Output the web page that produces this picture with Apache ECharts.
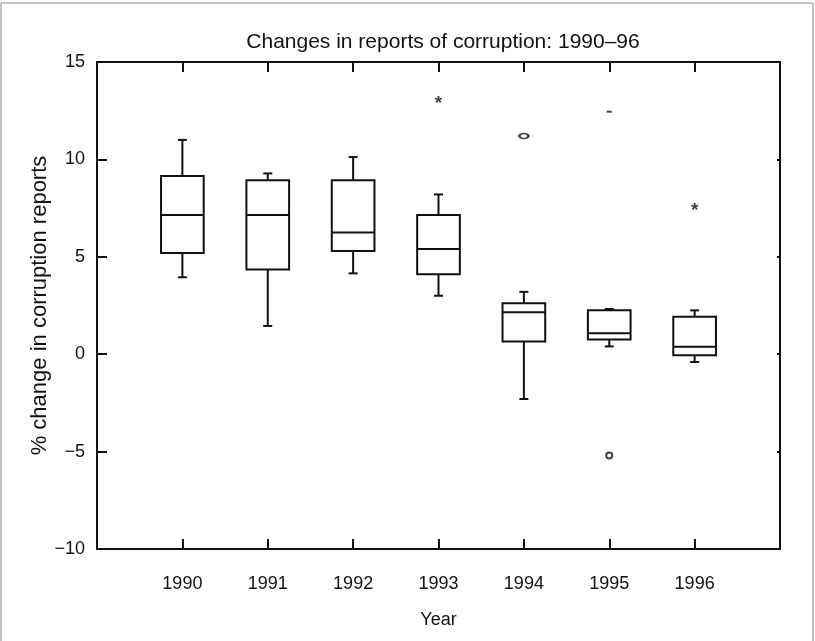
<!DOCTYPE html>
<html>
<head>
<meta charset="utf-8">
<script src="https://cdn.jsdelivr.net/npm/echarts@6/dist/echarts.min.js"></script>
<style>
html,body{margin:0;padding:0;background:#fff;}
#chart{width:815px;height:641px;}
</style>
</head>
<body>
<div id="chart"></div>
<script>
// Data
const years = ['1990', '1991', '1992', '1993', '1994', '1995', '1996'];
const whiskerLow  = [3.95, 1.45, 4.15, 3.0, -2.3, 0.4, -0.4];
const q1          = [5.2, 4.35, 5.3, 4.1, 0.65, 0.75, -0.05];
const median      = [7.15, 7.15, 6.25, 5.4, 2.15, 1.08, 0.38];
const q3          = [9.15, 8.93, 8.93, 7.15, 2.62, 2.25, 1.92];
const whiskerHigh = [11.0, 9.28, 10.12, 8.2, 3.2, 2.32, 2.25];

const outYear  = ['1993', '1994', '1995', '1995', '1996'];
const outValue = [13.05, 11.2, 12.45, -5.2, 7.55];
const outMark  = ['*', 'o', '-', 'c', '*'];

const yTicks = [-10, -5, 0, 5, 10, 15];

// axis categories with an empty slot on each side
const cats = [' '].concat(years).concat(['  ']);

const boxData = years.map((y, i) => [i + 1, whiskerLow[i], q1[i], median[i], q3[i], whiskerHigh[i]]);

const FONT = 'Liberation Sans, Arial, Helvetica, sans-serif';
const INK = '#111';

function markStyle(m) {
  if (m === 'o') return { symbol: 'emptyCircle', symbolSize: [9, 5], itemStyle: { color: INK, borderWidth: 2 } };
  if (m === 'c') return { symbol: 'emptyCircle', symbolSize: 6, itemStyle: { color: INK, borderWidth: 2 } };
  if (m === '-') return { symbol: 'rect', symbolSize: [5, 2], itemStyle: { color: INK } };
  return { symbol: 'circle', symbolSize: 1, itemStyle: { color: 'rgba(0,0,0,0)' },
    label: { show: true, position: 'inside', formatter: '*', fontSize: 19, fontWeight: 'bold', fontFamily: FONT, color: INK, offset: [0, 4] } };
}

const outData = outYear.map((y, i) => Object.assign({ value: [years.indexOf(y) + 1, outValue[i]] }, markStyle(outMark[i])));

const chart = echarts.init(document.getElementById('chart'), null, { renderer: 'canvas' });

const axisCommonX = {
  type: 'category',
  data: cats,
  boundaryGap: false,
  axisLine: { show: true, onZero: false, lineStyle: { color: INK, width: 2 } },
  axisTick: { show: true, inside: true, length: 10, lineStyle: { color: INK, width: 2 },
    interval: (idx) => idx > 0 && idx < cats.length - 1 },
  splitLine: { show: false }
};

chart.setOption({
  animation: false,
  backgroundColor: '#fff',
  title: {
    text: 'Changes in reports of corruption: 1990\u201396',
    left: 438, textAlign: 'center', top: 27,
    textStyle: { fontFamily: FONT, fontSize: 21, fontWeight: 'normal', color: INK }
  },
  grid: { left: 97, right: 35, top: 62, bottom: 92, containLabel: false },
  xAxis: [
    Object.assign({}, axisCommonX, {
      position: 'bottom',
      axisLabel: { show: true, fontFamily: FONT, fontSize: 18, color: INK, margin: 26,
        interval: (idx) => idx > 0 && idx < cats.length - 1 },
      name: 'Year', nameLocation: 'middle', nameGap: 62,
      nameTextStyle: { fontFamily: FONT, fontSize: 18, color: INK }
    }),
    Object.assign({}, axisCommonX, { position: 'top', axisLabel: { show: false } })
  ],
  yAxis: [
    {
      type: 'value', min: -10, max: 15, interval: 5, position: 'left',
      axisLine: { show: true, onZero: false, lineStyle: { color: INK, width: 2 } },
      axisTick: { show: true, inside: true, length: 10, lineStyle: { color: INK, width: 2 } },
      axisLabel: { fontFamily: FONT, fontSize: 18, color: INK, margin: 12,
        formatter: (v) => yTicks.indexOf(v) >= 0 ? (v < 0 ? '\u2212' + Math.abs(v) : String(v)) : '' },
      splitLine: { show: false },
      name: '% change in corruption reports', nameLocation: 'middle', nameGap: 46, nameRotate: 90,
      nameMoveOverlap: false,
      nameTextStyle: { fontFamily: FONT, fontSize: 22, color: INK }
    },
    {
      type: 'value', min: -10, max: 15, interval: 5, position: 'right',
      axisLine: { show: true, onZero: false, lineStyle: { color: INK, width: 2 } },
      axisTick: { show: true, inside: true, length: 3, lineStyle: { color: INK, width: 2 } },
      axisLabel: { show: false },
      splitLine: { show: false }
    }
  ],
  series: [
    {
      type: 'custom',
      xAxisIndex: 0, yAxisIndex: 0,
      data: boxData,
      renderItem: function (params, api) {
        const x = api.value(0);
        const band = api.size([1, 0])[0];
        const w = band * 0.5;
        const cap = 9;
        const pLow = api.coord([x, api.value(1)]);
        const pQ1 = api.coord([x, api.value(2)]);
        const pMed = api.coord([x, api.value(3)]);
        const pQ3 = api.coord([x, api.value(4)]);
        const pHigh = api.coord([x, api.value(5)]);
        const cx = pQ1[0];
        const st = { stroke: INK, lineWidth: 2, fill: null };
        return {
          type: 'group',
          children: [
            { type: 'line', shape: { x1: cx, y1: pQ3[1], x2: cx, y2: pHigh[1] }, style: st },
            { type: 'line', shape: { x1: cx, y1: pQ1[1], x2: cx, y2: pLow[1] }, style: st },
            { type: 'line', shape: { x1: cx - cap / 2, y1: pHigh[1], x2: cx + cap / 2, y2: pHigh[1] }, style: st },
            { type: 'line', shape: { x1: cx - cap / 2, y1: pLow[1], x2: cx + cap / 2, y2: pLow[1] }, style: st },
            { type: 'rect', shape: { x: cx - w / 2, y: pQ3[1], width: w, height: pQ1[1] - pQ3[1] }, style: { stroke: INK, lineWidth: 2, fill: '#fff' } },
            { type: 'line', shape: { x1: cx - w / 2, y1: pMed[1], x2: cx + w / 2, y2: pMed[1] }, style: st }
          ]
        };
      },
      z: 3
    },
    {
      type: 'scatter',
      xAxisIndex: 0, yAxisIndex: 0,
      data: outData,
      z: 4
    }
  ],
  graphic: [
    { type: 'rect', shape: { x: 1, y: 3, width: 812, height: 660 }, style: { stroke: '#888', lineWidth: 1, fill: null }, silent: true }
  ]
});
</script>
</body>
</html>
